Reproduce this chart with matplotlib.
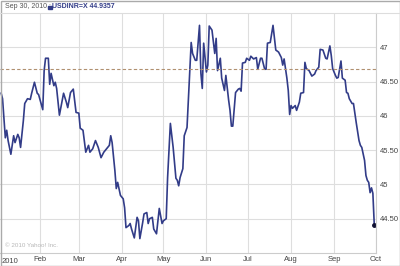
import matplotlib
matplotlib.use("Agg")
import matplotlib.pyplot as plt
import pandas as pd
from matplotlib.patches import Rectangle
from matplotlib.lines import Line2D

plt.rcParams["font.family"] = ["Liberation Sans", "DejaVu Sans"]

# USD/INR daily close, 2010
days = ["01-04", "01-05", "01-07", "01-08", "01-09", "01-11", "01-13", "01-14", "01-16", "01-17",
        "01-18", "01-20", "01-21", "01-23", "01-25", "01-26", "01-28", "01-30", "01-31", "02-03",
        "02-04", "02-05", "02-07", "02-08", "02-09", "02-11", "02-12", "02-13", "02-15", "02-18",
        "02-20", "02-21", "02-23", "02-25", "02-27", "03-01", "03-02", "03-04", "03-06", "03-08",
        "03-09", "03-11", "03-13", "03-15", "03-17", "03-19", "03-21", "03-23", "03-24", "03-25",
        "03-27", "03-28", "03-29", "03-31", "04-02", "04-03", "04-04", "04-06", "04-07", "04-08",
        "04-10", "04-12", "04-13", "04-14", "04-16", "04-17", "04-19", "04-20", "04-21", "04-23",
        "04-24", "04-26", "04-27", "04-28", "04-30", "05-01", "05-03", "05-04", "05-06", "05-08",
        "05-10", "05-11", "05-12", "05-13", "05-15", "05-16", "05-18", "05-21", "05-22", "05-24",
        "05-25", "05-27", "05-28", "05-29", "05-30", "06-01", "06-02", "06-03", "06-05", "06-07",
        "06-08", "06-09", "06-11", "06-12", "06-14", "06-15", "06-17", "06-18", "06-19", "06-20",
        "06-22", "06-24", "06-25", "06-26", "06-27", "06-29", "06-30", "07-02", "07-03", "07-05",
        "07-07", "07-08", "07-10", "07-11", "07-13", "07-14", "07-15", "07-17", "07-19", "07-21",
        "07-23", "07-25", "07-26", "07-27", "07-29", "07-30", "07-31", "08-01", "08-02", "08-04",
        "08-05", "08-07", "08-08", "08-10", "08-11", "08-12", "08-14", "08-16", "08-18", "08-19",
        "08-21", "08-22", "08-24", "08-26", "08-27", "08-29", "08-30", "08-31", "09-02", "09-03",
        "09-04", "09-06", "09-07", "09-09", "09-10", "09-11", "09-12", "09-14", "09-15", "09-17",
        "09-19", "09-20", "09-21", "09-23", "09-24", "09-25", "09-26", "09-27", "09-28", "09-29",
        "09-30"]
rates = [46.33, 46.25, 45.68, 45.79, 45.64, 45.44, 45.71, 45.61, 45.73, 45.68,
         45.54, 45.93, 46.18, 46.25, 46.24, 46.33, 46.49, 46.33, 46.31, 46.09,
         46.66, 46.84, 46.84, 46.46, 46.62, 46.44, 46.49, 46.40, 46.01, 46.33,
         46.20, 46.12, 46.34, 46.39, 46.05, 46.04, 45.82, 45.79, 45.47, 45.57,
         45.47, 45.52, 45.64, 45.54, 45.39, 45.47, 45.52, 45.57, 45.71, 45.61,
         45.20, 44.94, 45.03, 44.84, 44.79, 44.66, 44.37, 44.40, 44.43, 44.35,
         44.22, 44.52, 44.47, 44.21, 44.44, 44.57, 44.59, 44.43, 44.50, 44.52,
         44.35, 44.28, 44.47, 44.65, 44.43, 44.47, 44.50, 45.10, 45.89, 45.54,
         45.09, 45.06, 44.98, 45.10, 45.23, 45.71, 45.83, 47.07, 46.91, 46.81,
         46.81, 47.32, 46.62, 46.40, 47.06, 46.64, 46.74, 47.31, 47.25, 46.91,
         47.13, 46.66, 46.84, 46.55, 46.37, 46.59, 46.23, 46.08, 45.85, 45.85,
         46.34, 46.39, 46.40, 46.36, 46.77, 46.78, 46.84, 46.81, 46.87, 46.83,
         46.85, 46.68, 46.84, 46.84, 46.68, 46.68, 47.06, 47.07, 47.32, 46.96,
         46.93, 46.85, 46.74, 46.83, 46.55, 46.37, 46.02, 46.15, 46.11, 46.15,
         46.08, 46.20, 46.33, 46.34, 46.78, 46.69, 46.66, 46.58, 46.61, 46.66,
         46.71, 46.97, 46.96, 46.84, 46.83, 47.02, 46.88, 46.69, 46.59, 46.55,
         46.56, 46.80, 46.55, 46.52, 46.34, 46.33, 46.25, 46.18, 46.18, 45.90,
         45.64, 45.57, 45.54, 45.35, 45.13, 45.06, 45.03, 44.88, 44.95, 44.87,
         44.41]
prev_close = 46.68
yticks = [44.5, 45, 45.5, 46, 46.5, 47]
ytick_labels = ["44.50", "45", "45.50", "46", "46.50", "47"]
month_labels = ["Feb", "Mar", "Apr", "May", "Jun", "Jul", "Aug", "Sep", "Oct"]

dates = pd.to_datetime(["2010-" + d for d in days])

fig = plt.figure(figsize=(4, 2.66), dpi=100)
ax = fig.add_axes([0.0, 13 / 266, 376 / 400, 240 / 266])

ax.plot(dates, rates, color="#323c88", lw=1.2)
ax.plot(dates[-1:], rates[-1:], "o", color="#111133", ms=2.5)
ax.axhline(prev_close, color="#b09070", lw=0.8, ls=(0, (3, 2)))

ax.set_ylim(44, 47.5)
ax.set_xlim(pd.Timestamp("2010-01-03 04:00"), pd.Timestamp("2010-10-01 06:00"))

ax.yaxis.tick_right()
ax.set_yticks(yticks)
ax.set_yticklabels(ytick_labels)
month_starts = pd.date_range("2010-02-01", "2010-10-01", freq="MS")
ax.set_xticks(month_starts)
ax.set_xticklabels(month_labels)
ax.tick_params(axis="both", length=0, labelsize=5.5, labelcolor="#444444")
ax.tick_params(axis="y", pad=2.5)
ax.tick_params(axis="x", pad=2.5)
for lbl in ax.get_yticklabels():
    lbl.set_horizontalalignment("left")

ax.grid(True, color="#dedede", lw=0.8)
ax.set_axisbelow(True)
for s in ["top", "left"]:
    ax.spines[s].set_visible(False)
ax.spines["right"].set_color("#cccccc")
ax.spines["bottom"].set_color("#cccccc")

ax.text(0.005, -0.02, "2010", transform=ax.transAxes, fontsize=5.5,
        color="#444444", ha="left", va="top")
ax.text(0.012, 0.02, "\u00a9 2010 Yahoo! Inc.", transform=ax.transAxes,
        fontsize=4.5, color="#b8b8b8", ha="left", va="bottom")

# header strip
fig.add_artist(Line2D([0, 1], [253 / 266, 253 / 266], color="#dddddd", lw=0.8))
fig.text(5 / 400, 259 / 266, "Sep 30, 2010 :", fontsize=5.0, color="#555555", va="center")
fig.add_artist(Rectangle((47.5 / 400, 257.5 / 266), 4 / 400, 3 / 266, color="#323c88"))
fig.text(52.5 / 400, 259 / 266, "USDINR=X 44.9357", fontsize=5.0, color="#323c88",
         va="center", fontweight="bold")
fig.add_artist(Rectangle((0.5 / 400, 0.5 / 266), 399 / 400, 265 / 266, fill=False,
                         ec="#aaaaaa", lw=1))

fig.savefig("out.png", dpi=100)
